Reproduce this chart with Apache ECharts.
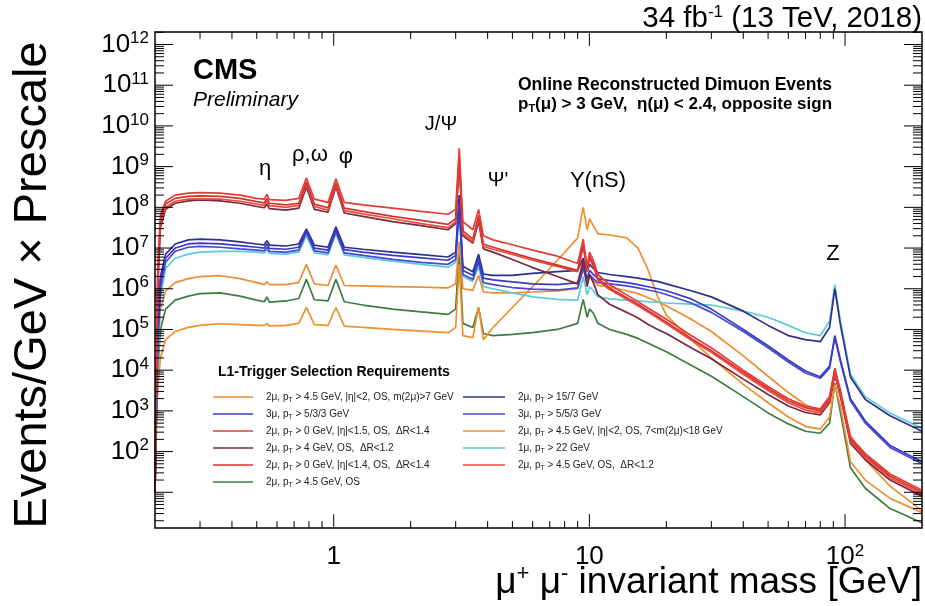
<!DOCTYPE html>
<html>
<head>
<meta charset="utf-8">
<script src="https://cdn.jsdelivr.net/npm/echarts@6/dist/echarts.min.js"></script>
<style>
  html, body { margin: 0; padding: 0; background: #fff; }
  #chart { width: 925px; height: 606px; }
</style>
</head>
<body>
<div id="chart"></div>
<script>
var FONT = '"Liberation Sans", Arial, Helvetica, sans-serif'

// dimuon invariant mass points (GeV)
var massGeV = [0.2, 0.205, 0.21, 0.22, 0.24, 0.27, 0.3, 0.36, 0.43, 0.5,
  0.535, 0.548, 0.56, 0.65, 0.73, 0.782, 0.84, 0.95, 1.02, 1.1,
  1.3, 1.7, 2.2, 2.8, 3.0, 3.097, 3.2, 3.5, 3.686, 3.85,
  4.2, 5, 6, 7.5, 9, 9.46, 9.8, 10.02, 10.36, 10.8,
  12, 14, 15.5, 17, 18.5, 20, 25, 30, 40, 50,
  60, 70, 80, 87, 91.2, 96, 105, 120, 150, 200]

// log10(Events/GeV x Prescale), one list per L1 seed
var redA = [1.0, 6.5, 7.8, 8.15, 8.3, 8.35, 8.36, 8.35, 8.3, 8.22,
  8.2, 8.32, 8.19, 8.17, 8.22, 8.72, 8.2, 8.12, 8.7, 8.12,
  8.06, 7.98, 7.9, 7.83, 7.95, 9.45, 7.65, 7.45, 7.95, 7.3,
  7.2, 7.08, 6.95, 6.8, 6.62, 7.22, 6.55, 6.9, 6.7, 6.35,
  6.1, 5.85, 5.68, 5.52, 5.38, 5.25, 4.85, 4.55, 4.0, 3.6,
  3.3, 3.12, 3.05, 3.35, 4.05, 3.5, 2.35, 1.95, 1.45, 1.05]
var redB = [1.0, 6.3, 7.7, 8.08, 8.22, 8.27, 8.28, 8.27, 8.22, 8.14,
  8.11, 8.22, 8.1, 8.06, 8.1, 8.62, 8.08, 7.99, 8.6, 7.98,
  7.9, 7.78, 7.68, 7.58, 7.72, 9.3, 7.42, 7.22, 7.8, 7.1,
  7.02, 6.88, 6.74, 6.58, 6.45, 7.1, 6.45, 6.8, 6.6, 6.25,
  6.02, 5.78, 5.62, 5.46, 5.32, 5.18, 4.78, 4.48, 3.95, 3.55,
  3.25, 3.08, 3.0, 3.3, 4.0, 3.45, 2.3, 1.9, 1.4, 1.0]
var redC = [1.0, 6.2, 7.6, 8.0, 8.15, 8.2, 8.21, 8.2, 8.15, 8.08,
  8.05, 8.15, 8.04, 8.0, 8.05, 8.58, 8.02, 7.93, 8.55, 7.92,
  7.84, 7.72, 7.6, 7.5, 7.65, 9.2, 7.35, 7.16, 7.72, 7.04,
  6.97, 6.84, 6.7, 6.55, 6.42, 7.05, 6.42, 6.75, 6.55, 6.2,
  5.98, 5.74, 5.58, 5.42, 5.28, 5.14, 4.74, 4.44, 3.9, 3.5,
  3.2, 3.02, 2.95, 3.25, 3.95, 3.4, 2.25, 1.85, 1.35, 0.95]
var maroon = [1.0, 6.0, 7.5, 7.95, 8.1, 8.16, 8.18, 8.16, 8.1, 8.02,
  7.99, 8.08, 7.97, 7.93, 7.98, 8.5, 7.95, 7.88, 8.5, 7.86,
  7.78, 7.65, 7.55, 7.45, 7.6, 9.1, 7.3, 7.12, 7.65, 6.98,
  6.9, 6.72, 6.52, 6.3, 6.12, 6.7, 6.05, 6.35, 6.15, 5.85,
  5.62, 5.42, 5.28, 5.12, 5.0, 4.9, 4.55, 4.28, 3.78, 3.4,
  3.12, 2.96, 2.9, 3.2, 3.9, 3.35, 2.2, 1.8, 1.3, 0.9]
var navy = [1.0, 5.0, 6.3, 6.85, 7.1, 7.2, 7.22, 7.2, 7.15, 7.1,
  7.08, 7.18, 7.07, 7.05, 7.1, 7.47, 7.07, 7.02, 7.52, 7.02,
  6.97, 6.9, 6.84, 6.78, 6.9, 8.3, 6.55, 6.42, 6.85, 6.36,
  6.33, 6.33, 6.38, 6.42, 6.45, 6.75, 6.42, 6.6, 6.5, 6.4,
  6.35, 6.3, 6.26, 6.22, 6.18, 6.12, 5.95, 5.8, 5.45, 5.1,
  4.85, 4.75, 4.7, 5.05, 6.0, 5.1, 3.83, 3.28, 2.88, 2.5]
var blue1 = [1.0, 4.8, 6.2, 6.75, 7.0, 7.1, 7.12, 7.1, 7.06, 7.02,
  7.0, 7.1, 6.99, 6.97, 7.02, 7.42, 7.0, 6.95, 7.45, 6.96,
  6.9, 6.82, 6.76, 6.7, 6.82, 8.15, 6.45, 6.33, 6.75, 6.26,
  6.22, 6.17, 6.12, 6.1, 6.15, 6.6, 6.25, 6.45, 6.35, 6.25,
  6.2, 6.15, 6.1, 6.05, 6.0, 5.95, 5.75, 5.5, 5.0, 4.6,
  4.25, 3.98, 3.84, 4.1, 4.85, 4.25, 3.3, 2.75, 2.15, 1.75]
var blue2 = [1.0, 4.6, 6.0, 6.65, 6.92, 7.02, 7.04, 7.02, 6.98, 6.95,
  6.93, 7.02, 6.92, 6.9, 6.95, 7.38, 6.93, 6.88, 7.4, 6.88,
  6.82, 6.72, 6.65, 6.6, 6.72, 8.05, 6.35, 6.23, 6.65, 6.15,
  6.1, 6.03, 5.99, 5.97, 6.02, 6.5, 6.15, 6.35, 6.25, 6.15,
  6.12, 6.07, 6.02, 5.97, 5.92, 5.86, 5.65, 5.42, 4.95, 4.55,
  4.2, 3.93, 3.8, 4.05, 4.8, 4.2, 3.25, 2.7, 2.1, 1.7]
var cyan = [1.0, 3.8, 5.8, 6.5, 6.75, 6.85, 6.9, 6.92, 6.92, 6.9,
  6.88, 6.96, 6.87, 6.85, 6.9, 7.3, 6.88, 6.83, 7.35, 6.83,
  6.77, 6.68, 6.6, 6.53, 6.65, 7.95, 6.3, 6.18, 6.55, 6.05,
  6.0, 5.9, 5.8, 5.74, 5.72, 6.3, 5.85, 6.05, 5.95, 5.8,
  5.75, 5.72, 5.7, 5.68, 5.67, 5.65, 5.62, 5.6, 5.45, 5.3,
  5.1, 4.92, 4.85, 5.2, 6.1, 5.2, 3.9, 3.35, 2.95, 2.57]
var orangeA = [2.5, 4.5, 5.5, 5.95, 6.15, 6.25, 6.3, 6.32, 6.25, 6.15,
  6.1, 6.17, 6.1, 6.1, 6.15, 6.6, 6.12, 6.08, 6.58, 6.08,
  6.07, 6.05, 6.04, 6.02, 6.12, 7.15, 6.0, 5.96, 6.33, 5.92,
  5.9, 5.9, 5.92, 5.95, 6.0, 6.55, 6.1, 6.3, 6.2, 6.08,
  6.05, 5.95, 5.88, 5.78, 5.68, 5.58, 5.25, 4.95, 4.35, 3.85,
  3.45, 3.15, 3.0, 3.2, 3.9, 3.35, 2.4, 1.8, 1.15, 0.55]
var orangeB = [2.5, 3.5, 4.3, 4.75, 4.95, 5.05, 5.1, 5.14, 5.12, 5.1,
  5.1, 5.15, 5.09, 5.1, 5.15, 5.54, 5.12, 5.1, 5.54, 5.08,
  5.05, 5.0, 4.96, 4.92, 5.05, 6.6, 4.85, 4.8, 5.54, 4.75,
  5.05, 5.54, 6.05, 6.7, 7.25, 8.0, 7.45, 7.72, 7.55, 7.35,
  7.32, 7.25, 7.0, 6.45, 5.8, 5.35, 4.75, 4.3, 3.65, 3.2,
  2.85, 2.62, 2.55, 2.85, 3.65, 3.1, 1.75, 1.3, 0.85, 0.5]
var green = [2.5, 4.0, 5.0, 5.5, 5.72, 5.82, 5.88, 5.9, 5.82, 5.72,
  5.68, 5.8, 5.67, 5.7, 5.76, 6.23, 5.73, 5.7, 6.23, 5.68,
  5.6, 5.5, 5.43, 5.37, 5.5, 7.0, 5.15, 5.05, 5.54, 4.9,
  4.85, 4.88, 4.92, 5.0, 5.15, 5.74, 5.3, 5.5, 5.4, 5.15,
  5.0, 4.88, 4.78, 4.66, 4.55, 4.45, 4.12, 3.85, 3.35, 2.95,
  2.68, 2.5, 2.45, 2.7, 3.68, 2.95, 1.6, 1.1, 0.6, 0.25]

// frame edges (the frame is a bit wider than the labelled decades)
var xRange = [0.2, 200]
var yFrame = [Math.pow(10, 0.12), Math.pow(10, 12.31)]

// legend columns
var legendLeft = [
  '2μ, pT > 4.5 GeV, |η|<2, OS, m(2μ)>7 GeV',
  '3μ, pT > 5/3/3 GeV',
  '2μ, pT > 0 GeV, |η|<1.5, OS,  ΔR<1.4',
  '2μ, pT > 4 GeV, OS,  ΔR<1.2',
  '2μ, pT > 0 GeV, |η|<1.4, OS,  ΔR<1.4',
  '2μ, pT > 4.5 GeV, OS'
]
var legendRight = [
  '2μ, pT > 15/7 GeV',
  '3μ, pT > 5/5/3 GeV',
  '2μ, pT > 4.5 GeV, |η|<2, OS, 7<m(2μ)<18 GeV',
  '1μ, pT > 22 GeV',
  '2μ, pT > 4.5 GeV, OS,  ΔR<1.2'
]

// drawing order: first is at the bottom
var triggers = [
  { name: legendLeft[5], logs: green, color: '#3d7c43' },
  { name: legendRight[2], logs: orangeB, color: '#f0902e' },
  { name: legendLeft[0], logs: orangeA, color: '#ee8e34' },
  { name: legendRight[3], logs: cyan, color: '#5ccbd7' },
  { name: legendRight[0], logs: navy, color: '#2f2f8e' },
  { name: legendRight[1], logs: blue2, color: '#4747d8' },
  { name: legendLeft[1], logs: blue1, color: '#3a3ac4' },
  { name: legendLeft[3], logs: maroon, color: '#7a2a3c' },
  { name: legendRight[4], logs: redC, color: '#ee4a3c' },
  { name: legendLeft[4], logs: redB, color: '#d8322e' },
  { name: legendLeft[2], logs: redA, color: '#e43c36' }
]

function toPoints(logs) {
  return massGeV.map(function (m, i) {
    return [m, Math.pow(10, logs[i])]
  })
}

// tick positions on the log axes
var xTicks = []
var yTicks = []
for (var n = -1; n <= 2; n++) {
  for (var k = 1; k <= 9; k++) {
    var v = k * Math.pow(10, n)
    if (v > xRange[0] * 1.001 && v < xRange[1] * 0.999) xTicks.push([v, yFrame[0], k === 1 ? 1 : 0])
  }
}
for (var n = 0; n <= 12; n++) {
  for (var k = 1; k <= 9; k++) {
    var v = k * Math.pow(10, n)
    if (v > yFrame[0] && v < yFrame[1]) yTicks.push([xRange[0], v, k === 1 ? 1 : 0])
  }
}

var series = triggers.map(function (t) {
  return {
    name: t.name,
    type: 'line',
    data: toPoints(t.logs),
    showSymbol: false,
    symbol: 'none',
    silent: true,
    lineStyle: { color: t.color, width: 1.7 },
    itemStyle: { color: t.color }
  }
})

// frame
series.push({
  type: 'custom',
  silent: true,
  clip: false,
  z: 5,
  data: [[xRange[0], yFrame[0]]],
  renderItem: function (params, api) {
    var bl = api.coord([xRange[0], yFrame[0]])
    var tr = api.coord([xRange[1], yFrame[1]])
    return {
      type: 'rect',
      shape: { x: bl[0], y: tr[1], width: tr[0] - bl[0], height: bl[1] - tr[1] },
      style: { fill: 'none', stroke: '#000', lineWidth: 1.5 }
    }
  }
})

// y ticks, left and right
series.push({
  type: 'custom',
  silent: true,
  clip: false,
  z: 5,
  data: yTicks,
  renderItem: function (params, api) {
    var v = api.value(1)
    var len = api.value(2) ? 18 : 9
    var l = api.coord([xRange[0], v])
    var r = api.coord([xRange[1], v])
    return {
      type: 'group',
      children: [
        { type: 'line', shape: { x1: l[0], y1: l[1], x2: l[0] + len, y2: l[1] }, style: { stroke: '#000', lineWidth: 1 } },
        { type: 'line', shape: { x1: r[0] - len, y1: r[1], x2: r[0], y2: r[1] }, style: { stroke: '#000', lineWidth: 1 } }
      ]
    }
  }
})

// x ticks, bottom and top
series.push({
  type: 'custom',
  silent: true,
  clip: false,
  z: 5,
  data: xTicks,
  renderItem: function (params, api) {
    var m = api.value(0)
    var len = api.value(2) ? 14 : 7
    var b = api.coord([m, yFrame[0]])
    var t = api.coord([m, yFrame[1]])
    return {
      type: 'group',
      children: [
        { type: 'line', shape: { x1: b[0], y1: b[1], x2: b[0], y2: b[1] - len }, style: { stroke: '#000', lineWidth: 1 } },
        { type: 'line', shape: { x1: t[0], y1: t[1], x2: t[0], y2: t[1] + len }, style: { stroke: '#000', lineWidth: 1 } }
      ]
    }
  }
})

var powRich = {
  b: { fontSize: 26, fontFamily: FONT, color: '#000', lineHeight: 30 },
  s: { fontSize: 17, fontFamily: FONT, color: '#000', padding: [0, 0, 12, 0] }
}

var legendText = {
  fontSize: 10,
  fontFamily: FONT,
  color: '#222',
  lineHeight: 14,
  padding: [0, 0, 0, 8],
  rich: {
    t: { fontSize: 7, fontFamily: FONT, color: '#222', padding: [6, 0, 0, 0] }
  }
}
var legendFormat = function (name) {
  return name.replace('pT', 'p{t|T}')
}

var option = {
  animation: false,
  backgroundColor: '#fff',
  // y axis: 10^0 .. 10^12 between y=44.5 and y=533
  grid: { left: 155, right: 3, top: 44.5, bottom: 73, outerBoundsMode: 'none' },
  xAxis: {
    type: 'log',
    min: xRange[0],
    max: xRange[1],
    position: 'bottom',
    offset: -5,
    axisLine: { show: false },
    axisTick: { show: false },
    splitLine: { show: false },
    axisLabel: {
      margin: 14,
      showMinLabel: false,
      showMaxLabel: false,
      rich: powRich,
      formatter: function (v) {
        var e = Math.log10(v)
        var n = Math.round(e)
        if (Math.abs(e - n) > 0.01) return ''
        if (n === 0) return '{b|1}'
        if (n === 1) return '{b|10}'
        return '{b|10}{s|' + n + '}'
      }
    }
  },
  yAxis: {
    type: 'log',
    min: 1,
    max: 1e12,
    interval: 1,
    axisLine: { show: false },
    axisTick: { show: false },
    splitLine: { show: false },
    axisLabel: {
      margin: 6,
      rich: powRich,
      formatter: function (v) {
        var n = Math.round(Math.log10(v))
        if (n < 2) return ''
        return '{b|10}{s|' + n + '}'
      }
    }
  },
  legend: [
    {
      data: legendLeft,
      orient: 'vertical',
      left: 213,
      top: 390,
      padding: 0,
      itemGap: 3,
      itemWidth: 40,
      itemHeight: 1.6,
      icon: 'rect',
      selectedMode: false,
      textStyle: legendText,
      formatter: legendFormat
    },
    {
      data: legendRight,
      orient: 'vertical',
      left: 463,
      top: 390,
      padding: 0,
      itemGap: 3,
      itemWidth: 42,
      itemHeight: 1.6,
      icon: 'rect',
      selectedMode: false,
      textStyle: legendText,
      formatter: legendFormat
    }
  ],
  graphic: [
    { type: 'text', x: 922, y: 19, style: { text: '34 fb{s|-1} (13 TeV, 2018)', fontSize: 29.5, fontFamily: FONT, fill: '#000', align: 'right', verticalAlign: 'middle',
      rich: { s: { fontSize: 17, fontFamily: FONT, fill: '#000', padding: [0, 0, 13, 0] } } } },
    { type: 'text', x: 193, y: 71, style: { text: 'CMS', fontSize: 29, fontWeight: 'bold', fontFamily: FONT, fill: '#000', verticalAlign: 'middle' } },
    { type: 'text', x: 193, y: 100, style: { text: 'Preliminary', fontSize: 21, fontStyle: 'italic', fontFamily: FONT, fill: '#000', verticalAlign: 'middle' } },
    { type: 'text', x: 518, y: 85, style: { text: 'Online Reconstructed Dimuon Events', fontSize: 17.5, fontWeight: 'bold', fontFamily: FONT, fill: '#000', verticalAlign: 'middle' } },
    { type: 'text', x: 518, y: 104, style: { text: 'p{t|T}(μ) > 3 GeV,  η(μ) < 2.4, opposite sign', fontSize: 17, fontWeight: 'bold', fontFamily: FONT, fill: '#000', verticalAlign: 'middle',
      rich: { t: { fontSize: 11, fontWeight: 'bold', fontFamily: FONT, fill: '#000', padding: [9, 0, 0, 0] } } } },
    { type: 'text', x: 218, y: 372, style: { text: 'L1-Trigger Selection Requirements', fontSize: 14, fontWeight: 'bold', fontFamily: FONT, fill: '#000', verticalAlign: 'middle' } },
    { type: 'text', x: 265, y: 169, style: { text: 'η', fontSize: 22, fontFamily: FONT, fill: '#000', align: 'center', verticalAlign: 'middle' } },
    { type: 'text', x: 310, y: 155, style: { text: 'ρ,ω', fontSize: 22, fontFamily: FONT, fill: '#000', align: 'center', verticalAlign: 'middle' } },
    { type: 'text', x: 346, y: 157, style: { text: 'φ', fontSize: 22, fontFamily: FONT, fill: '#000', align: 'center', verticalAlign: 'middle' } },
    { type: 'text', x: 441, y: 124, style: { text: 'J/Ψ', fontSize: 20, fontFamily: FONT, fill: '#000', align: 'center', verticalAlign: 'middle' } },
    { type: 'text', x: 498, y: 180, style: { text: "Ψ'", fontSize: 20, fontFamily: FONT, fill: '#000', align: 'center', verticalAlign: 'middle' } },
    { type: 'text', x: 598, y: 181, style: { text: 'Υ(nS)', fontSize: 22, fontFamily: FONT, fill: '#000', align: 'center', verticalAlign: 'middle' } },
    { type: 'text', x: 833, y: 254, style: { text: 'Z', fontSize: 22, fontFamily: FONT, fill: '#000', align: 'center', verticalAlign: 'middle' } },
    { type: 'text', x: 33, y: 285, rotation: Math.PI / 2, style: { text: 'Events/GeV × Prescale', fontSize: 47, fontFamily: FONT, fill: '#000', align: 'center', verticalAlign: 'middle' } },
    { type: 'text', x: 922, y: 583, style: { text: 'μ{s|+} μ{s|-} invariant mass [GeV]', fontSize: 37, fontFamily: FONT, fill: '#000', align: 'right', verticalAlign: 'middle',
      rich: { s: { fontSize: 22, fontFamily: FONT, fill: '#000', padding: [0, 0, 18, 0] } } } }
  ],
  series: series
}

var chart = echarts.init(document.getElementById('chart'))
chart.setOption(option)
</script>
</body>
</html>
